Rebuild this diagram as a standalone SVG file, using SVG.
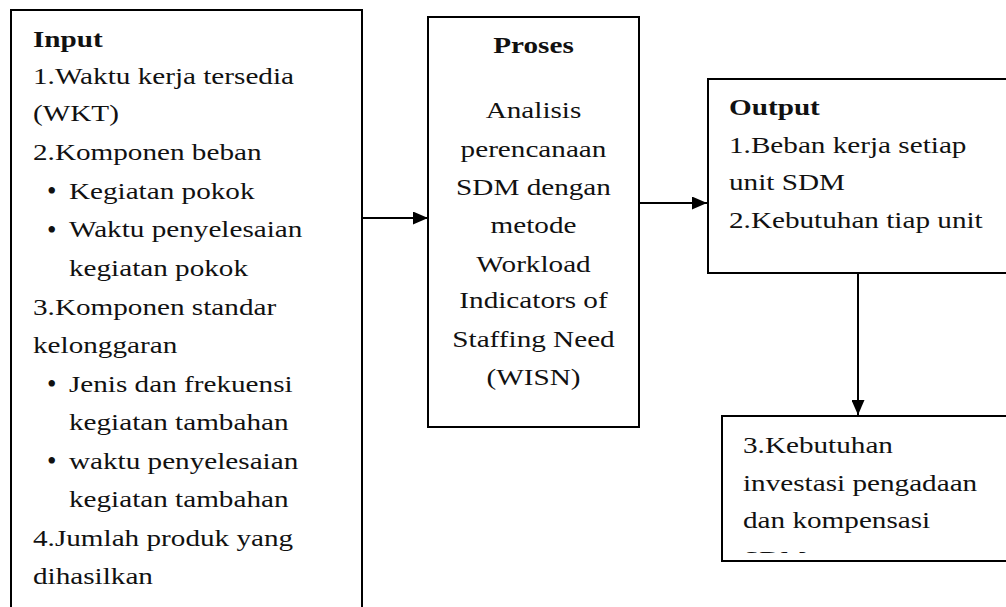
<svg xmlns="http://www.w3.org/2000/svg" width="1006" height="607" viewBox="0 0 1006 607">
<style>
.box{fill:#fff;stroke:#000;stroke-width:2}
text{font-family:"Liberation Serif","Times New Roman",serif;font-size:23px;fill:#111}
.b{font-weight:bold}
.c{text-anchor:middle}
.bul{font-size:27px}
.conn{stroke:#000;stroke-width:2;fill:none}
</style>
<defs>
<marker id="ah" viewBox="0 0 15 13" refX="15" refY="6.5" markerWidth="15" markerHeight="13" markerUnits="userSpaceOnUse" orient="auto">
<path d="M0,0 L15,6.5 L0,13 Z" fill="#000"/>
</marker>
<clipPath id="clip4"><rect x="722" y="417" width="290" height="136"/></clipPath>
</defs>
<rect width="1006" height="607" fill="#fff"/>
<g id="input">
<rect class="box" x="11" y="10" width="351" height="610"/>
<text class="bul" x="47" y="200">•</text>
<text class="bul" x="47" y="238.5">•</text>
<text class="bul" x="47" y="393">•</text>
<text class="bul" x="47" y="470">•</text>
<g transform="translate(33 0) scale(1.27 1)">
<text class="b" x="0" y="47">Input</text>
<text x="0" y="84">1.Waktu kerja tersedia</text>
<text x="0" y="121.5">(WKT)</text>
<text x="0" y="160">2.Komponen beban</text>
<text x="28.3" y="199">Kegiatan pokok</text>
<text x="28.3" y="237.5">Waktu penyelesaian</text>
<text x="28.3" y="276">kegiatan pokok</text>
<text x="0" y="315">3.Komponen standar</text>
<text x="0" y="353.5">kelonggaran</text>
<text x="28.3" y="392">Jenis dan frekuensi</text>
<text x="28.3" y="430.5">kegiatan tambahan</text>
<text x="28.3" y="469">waktu penyelesaian</text>
<text x="28.3" y="507.5">kegiatan tambahan</text>
<text x="0" y="546">4.Jumlah produk yang</text>
<text x="0" y="584.5">dihasilkan</text>
</g>
</g>
<g id="proses">
<rect class="box" x="428" y="17" width="211" height="410"/>
<g transform="translate(533.5 0) scale(1.27 1)">
<text class="b c" x="0" y="53">Proses</text>
<text class="c" x="0" y="118">Analisis</text>
<text class="c" x="0" y="157">perencanaan</text>
<text class="c" x="0" y="195">SDM dengan</text>
<text class="c" x="0" y="233">metode</text>
<text class="c" x="0" y="272">Workload</text>
<text class="c" x="0" y="308.5">Indicators of</text>
<text class="c" x="0" y="347">Staffing Need</text>
<text class="c" x="0" y="385">(WISN)</text>
</g>
</g>
<g id="output">
<rect class="box" x="708" y="79" width="310" height="194"/>
<g transform="translate(729 0) scale(1.27 1)">
<text class="b" x="0" y="115">Output</text>
<text x="0" y="153">1.Beban kerja setiap</text>
<text x="0" y="190">unit SDM</text>
<text x="0" y="228">2.Kebutuhan tiap unit</text>
</g>
</g>
<g id="output3">
<rect class="box" x="722" y="416" width="300" height="145"/>
<g clip-path="url(#clip4)">
<g transform="translate(743 0) scale(1.27 1)">
<text x="0" y="453">3.Kebutuhan</text>
<text x="0" y="491">investasi pengadaan</text>
<text x="0" y="528">dan kompensasi</text>
<text x="0" y="567">SDM</text>
</g>
</g>
</g>
<g id="connectors">
<line class="conn" x1="362" y1="218" x2="428" y2="218" marker-end="url(#ah)"/>
<line class="conn" x1="639" y1="203" x2="707" y2="203" marker-end="url(#ah)"/>
<line class="conn" x1="858" y1="273" x2="858" y2="415" marker-end="url(#ah)"/>
</g>
</svg>
